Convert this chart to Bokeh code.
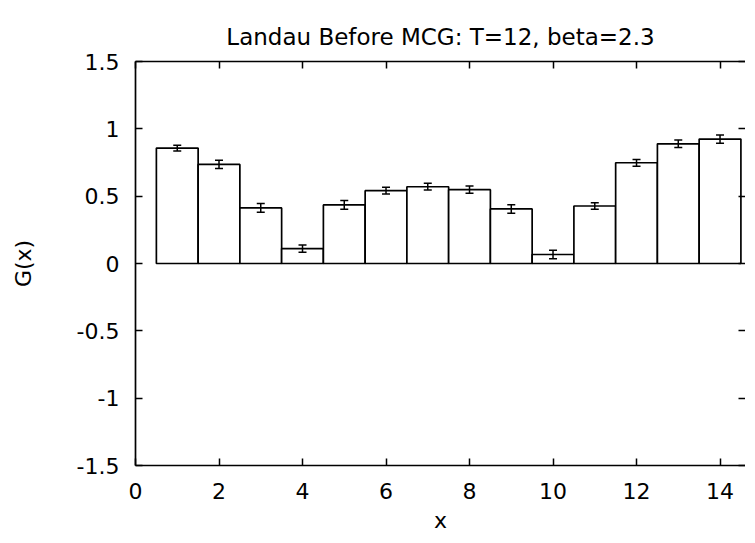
from bokeh.plotting import figure
from bokeh.models import (ColumnDataSource, Whisker, TeeHead, FixedTicker, LinearAxis, Range1d,
                          CustomJSTickFormatter)
from bokeh.embed import file_html
from bokeh.resources import INLINE

# data
x_vals = [1, 2, 3, 4, 5, 6, 7, 8, 9, 10, 11, 12, 13, 14]
g_vals = [0.857, 0.736, 0.413, 0.111, 0.435, 0.541, 0.570, 0.548, 0.405, 0.067, 0.427, 0.748, 0.889, 0.924]
g_err = [0.022, 0.031, 0.033, 0.027, 0.032, 0.025, 0.025, 0.027, 0.031, 0.031, 0.025, 0.025, 0.028, 0.031]
x_ticks = [0, 2, 4, 6, 8, 10, 12, 14]
y_ticks = [-1.5, -1.0, -0.5, 0.0, 0.5, 1.0, 1.5]
y_tick_labels = ["-1.5", "-1", "-0.5", "0", "0.5", "1", "1.5"]

FONT = "DejaVu Sans"
FS = "22px"

src = ColumnDataSource(dict(
    x=x_vals, g=g_vals,
    lo=[g - e for g, e in zip(g_vals, g_err)],
    hi=[g + e for g, e in zip(g_vals, g_err)],
))

p = figure(width=745, height=535, output_backend="svg", toolbar_location=None,
           x_range=Range1d(0, 14.61), y_range=Range1d(-1.5, 1.5),
           title="Landau Before MCG: T=12, beta=2.3",
           min_border_left=135, min_border_right=0, min_border_top=61, min_border_bottom=10)

p.vbar(x="x", top="g", bottom=0, width=1.0, source=src,
       fill_color="white", line_color="black", line_width=1.7)
p.add_layout(Whisker(base="x", upper="hi", lower="lo", source=src, level="overlay",
                     line_color="black", line_width=1.5,
                     upper_head=TeeHead(size=8, line_color="black", line_width=1.5),
                     lower_head=TeeHead(size=8, line_color="black", line_width=1.5)))

p.title.text_font = FONT
p.title.text_font_size = "23px"
p.title.text_font_style = "normal"
p.title.align = "center"
p.title.text_color = "black"
p.title.standoff = 24

p.xgrid.visible = False
p.ygrid.visible = False
p.outline_line_color = None
p.background_fill_color = "white"
p.border_fill_color = "white"

for ax in (p.xaxis[0], p.yaxis[0]):
    ax.major_tick_in = 7
    ax.major_tick_out = 0
    ax.minor_tick_line_color = None
    ax.axis_line_color = "black"
    ax.axis_line_width = 1.7
    ax.major_tick_line_color = "black"
    ax.major_tick_line_width = 1.5
    ax.major_label_text_font = FONT
    ax.major_label_text_font_size = FS
    ax.major_label_text_color = "black"
    ax.axis_label_text_font = FONT
    ax.axis_label_text_font_size = FS
    ax.axis_label_text_font_style = "normal"
    ax.axis_label_text_color = "black"

p.xaxis[0].ticker = FixedTicker(ticks=x_ticks)
p.yaxis[0].ticker = FixedTicker(ticks=y_ticks)
p.yaxis[0].major_label_overrides = {t: s for t, s in zip(y_ticks, y_tick_labels)}
p.xaxis[0].axis_label = "x"
p.yaxis[0].axis_label = "G(x)"
p.xaxis[0].major_label_standoff = 17
p.yaxis[0].major_label_standoff = 16
p.xaxis[0].axis_label_standoff = 6
p.yaxis[0].axis_label_standoff = 38

blank = CustomJSTickFormatter(code="return '';")
top_ax = LinearAxis(ticker=FixedTicker(ticks=x_ticks), formatter=blank,
                    major_tick_in=7, major_tick_out=0, minor_tick_line_color=None,
                    major_label_standoff=0, major_label_text_font_size="1px",
                    axis_line_width=1.7, major_tick_line_width=1.5)
p.add_layout(top_ax, "above")
right_ax = LinearAxis(ticker=FixedTicker(ticks=y_ticks), formatter=blank,
                      major_tick_in=7, major_tick_out=0, minor_tick_line_color=None,
                      major_label_standoff=0, major_label_text_font_size="1px",
                      axis_line_color=None, major_tick_line_width=1.5)
p.add_layout(right_ax, "right")

open("out.html", "w").write(file_html(p, INLINE))
